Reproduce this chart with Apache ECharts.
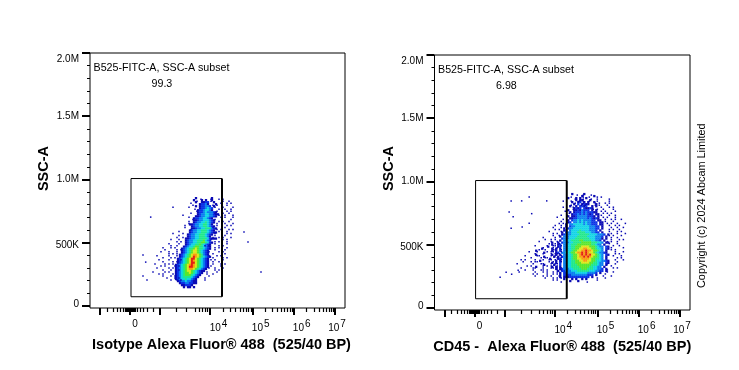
<!DOCTYPE html>
<html>
<head>
<meta charset="utf-8">
<script src="https://cdn.jsdelivr.net/npm/echarts@6/dist/echarts.min.js"></script>
<style>
html, body { margin: 0; padding: 0; background: #fff; }
#chart { width: 739px; height: 370px; }
</style>
</head>
<body>
<div id="chart"></div>
<script>
// x axis is the cytometer's display channel (biexponential), y axis is SSC-A
var xMajorTicks = [10, 40, 70, 120, 162.7, 204, 245];
var xMinorTicks = [17, 23, 27, 30, 33, 35, 36, 37, 38, 38.7, 39.4, 40.6, 41.3, 42, 43, 44, 45, 47, 50, 53, 57, 63,
    86.7, 96.7, 105, 109, 112.7, 115.3, 117.7,
    132.9, 140.4, 145.7, 149.8, 153.2, 156, 158.6, 160.8,
    175, 182, 187, 191, 194.5, 197.5, 200, 202,
    216, 224, 229, 233, 236, 239, 241, 243];
var xLabelValues = [45, 128.5, 170.7, 211.7, 247];
var xLabels = ['0', '{n|10}{e|4}', '{n|10}{e|5}', '{n|10}{e|6}', '{n|10}{e|7}'];
var yMajorTicks = [0, 500000, 1000000, 1500000, 2000000];
var yMinorTicks = [100000, 200000, 300000, 400000, 600000, 700000, 800000, 900000,
    1100000, 1200000, 1300000, 1400000, 1600000, 1700000, 1800000, 1900000];
var yLabelValues = [10000, 480000, 1000000, 1500000, 1950000];
var yLabels = ['0', '500K', '1.0M', '1.5M', '2.0M'];

var gateChannels = [132, 41, 41, 132];
var gateSsc = [1007000, 1007000, 72000, 72000];
var gateEdgeChannels = [132, 132];
var gateEdgeSsc = [1007000, 72000];

// density, one string per row, 2 channels a cell, '.' = no events, 1-9 = colour level
// the *Sparse rows are lone events, they sit half a cell off the main rows
var cellChannels = 2;
var cellSsc = 16000;
var isotypeStartChannel = 50;
var isotypeStartSsc = 852000;
var isotypeRows = [
"............................1.......1",
"...........................1...1.1..1",
"............................1..1122..1",
"..............................12231...1",
"............................1.122332.1",
"..............................1223432",
".............................12234431",
".............................1223433321",
".............................12334433211",
"............................11233443321",
"...........................1223344321",
"...........................11233444321",
"...........................12334454321",
".........................112334455431",
"..........................123344554321",
"..........................1123344555321",
".........................1233445554321",
".........................12334455543211",
"........................1233445554321",
"........................123344555431",
".......................1123344555542111",
".......................1233445556432",
".......................12334455665421",
".......................1234455654321",
"......................12344566554321",
".....................123455676554321",
".....................12345677654321",
".....................12345677654321",
"....................123456788765321",
"....................1234567987654321",
"...................1234567997654321",
"...................1234567987654321",
"...................1234567997654321",
"..................12345678987654321",
"..................12345679987654321",
"..................1234567887654321",
"..................123456776543211",
"..................12345667654321",
"..................1234566654321",
"..................123455554321",
"..................12344544321",
"...................1233433211",
"....................122332211",
".....................112221",
"......................1.11.1"
];
var isotypeSparse = [
"..............................1....1...1.1",
"............................1......1.....1..1",
".........................1..............1..1.1",
"..........................1.........1.1....1",
"................1.......1............1...1....1",
"...........................1...........1..1..1",
"............................1.........1....1.1",
".........................1...........1...1..1",
".....................1.................1..1...1",
"........................1...............1.1...1",
"..........................1..........1.......1",
"........................1..............1.1..1",
"........................1.............1...1...1",
"......................1...............1....1.1",
"......................1.............1.....1",
".........................1............1.1...1.1",
"...................1...................1...1",
"................1....1...............1.....1.1",
"...................1.................1....1",
"..................1..1..............1..1.1...1",
"...............1...1...............1.....1.1",
"..................1.1................1.1...1",
"..............1....1.................1.....1",
"...............1..1.............1.1....1.1",
"...........1...1.1...................1.1...1",
"............1.....1.1................1....1",
"..........1...1...1...............1....1.1",
"..............1.1.1.................1.....1",
"........1.....1...1...............1...1.1",
"...........1...1.1..................1....1.1",
".........1....1.....1..............1.1...1",
"...........1....1.1.................1..1",
".......1....1.1.1...................1...1.1",
"..........1.1....1.1...............1....1",
"........1.....1.1.................1..1...1",
"...........1...1...1.................1.1",
"......1.....1.1..................1....1",
".........1.1....1................1..1",
"...........1...1.1................1",
".............1...1.1............1",
"...............1..1.1...........1"
];
var isotypeOutliers = [[60.7, 702000], [53, 402000], [55.7, 346000], [57, 204000], [53, 236000],
    [154, 584000], [158, 505000], [171, 268000]];

var cd45StartChannel = 65.5;
var cd45StartSsc = 900000;
var cd45Rows = [
"....................................1.....1",
".........................................1.....1",
"..................................1...1.1..1",
"......................................1.11...1",
"....................................1..12.1.1..1",
".....................................1.2.1211...1",
"...................................1..1.2212..1.1",
".....................................1212.21121",
"..................................1..11213222.1.1",
"...................................1.122232322211",
"....................................12232323212.11",
"..................................1.112333332221.1",
"...................................112233333232121",
"..................................1.233434333322.11",
"..................................12.334343433222.11",
".................................1.33444443433222.11",
".................................1.233444444433322.1",
"................................1.2334444444433322.1",
"................................12.34444544443332.1",
"...............................1.23344455554443322.1",
"...............................1233344445555544443332.1",
"..............................1.33344445555544443332.1",
"...............................233344455555554443331.1",
"..............................1.3344555566555544332.1",
"..........................1..1.233344555566666555443.11",
"..........................1..12.3344555666666655433.1",
"........................1....12.33445566677776665433.21",
".....................1....1.1.1.33445566778877665443.21",
"..................1.......1.1.2.33445667788988766543.1",
"......................1.....12.33445667889898776543321",
"..................1.......1.1.1.33445667898989776543.21",
"......................1....1.1.233445667889898766543.1",
".........................1...12.33445667788887665543.1",
"....................1.......1.1.33445566778877665443321",
"..........................1.1.2.33445566677776655433.21",
"......................1....1..2.33445556666666555433.1",
"..................1.......1.1.1.3344555566666554433.1",
"............................1.1233344555566655544332.1",
".............................1.223334445555554443322.1",
"..............................1.22333344444433332.1",
"..............................1.222233333333222.1",
"..............................1.1112222222222.1",
"................................1...1.1..1.1",
"...................................1...1"
];
var cd45Sparse = [
"......................................1..1...1",
"...................................1.....1..1...1.1",
".....................................1...1...1..1.....1",
"...............................1...1...1.1..1...1.....1",
".....................................1...1.....1.1..1.1",
"...................................1....1.1....1.1...1",
"...............................1....1.............1...1.1",
"....................................1.........1.1..1....1",
"................................1.................1.1....1",
"..................................1................1.1.1",
"..............................1..1................1...1..1",
"............................1......................1.1...1",
"...............................1....................1..1.1..1",
"..............................1.....................1...1",
".............................1.1.....................1.1..1...1",
"...........................1..1.......................1..1.1",
"..........................1...1........................1..1..1",
"...........................1.1........................1.1..1",
"........................1.....1.......................1...1.1",
"..........................1.1..........................1..1...1",
"..........................1..1........................1.1...1",
".....................1.....1...........................1..1",
"......................1..1.1...........................1...1.1",
"...................1.....1..1........................1.1..1",
"........................1..1.1........................1...1",
".................1.....1..11..1.........................1..1",
".....................1....1.1..........................1.....1",
"...................1..1...11..1........................1.1",
"..............1...1....1.11...1..........................1...1",
".................1...1...1.111...........................1.1",
"............1.....11.....1.1..1.........................1...1",
"...............1....1.11....1.1...........................1.1",
"..........1.1....1...1..11.1..1..........................1...1",
"...........1...1.11.....1.1...1...........................1",
"........1.......1...11...1.11........................1...1",
".............1.1.....1.1.1..1..........................1",
"..........1.....11...1...11.1.1.........................1.1",
"............1...1...11.1....1.1......................1",
".........1.......1...1.1..1.1........................1..1",
"................1.1....1..1.1.......................1",
".................1...1.1.1...1.....................1...1",
"......................1...1.1.1.................1...1",
"..........................1.1...................1",
"..............................1............1"
];
var cd45Outliers = [[76.5, 846000], [87, 846000], [94.5, 877000], [112, 846000], [74.5, 759000],
    [78.5, 720000], [97, 745000], [76.5, 630000], [87.5, 640000], [94.5, 670000],
    [65.5, 243000], [71.5, 282000], [77, 266000], [83.5, 297000]];

// colour levels 1 to 9
var levelColors = ['#0a0ab4', '#0a32e6', '#0a80f0', '#10d4e6', '#20e88c', '#58e62c', '#dce81e', '#f89c10', '#e41e14'];
var cellSize = 2.3;
var loneEventSize = 1.5;

function densityPoints(rows, sparseRows, startChannel, startSsc, outliers) {
    var points = [];
    rows.forEach(function (row, r) {
        for (var c = 0; c < row.length; c++) {
            if (row[c] !== '.') {
                points.push([startChannel + c * cellChannels, startSsc - r * cellSsc, +row[c], cellSize]);
            }
        }
    });
    sparseRows.forEach(function (row, r) {
        for (var c = 0; c < row.length; c++) {
            if (row[c] !== '.') {
                points.push([startChannel + (c + 0.5) * cellChannels, startSsc - (r + 0.5) * cellSsc, +row[c], loneEventSize]);
            }
        }
    });
    outliers.forEach(function (p) {
        points.push([p[0], p[1], 1, loneEventSize]);
    });
    return points;
}

function pairs(xs, ys) {
    return xs.map(function (x, i) { return [x, ys[i]]; });
}

function xAxisPair(gridIndex, title, titlePadding) {
    return [{
        type: 'value', gridIndex: gridIndex, min: 0, max: 255, position: 'bottom',
        name: title, nameLocation: 'middle', nameGap: 25,
        nameTextStyle: { fontFamily: 'Liberation Sans', fontWeight: 'bold', fontSize: 14.5, color: '#000', padding: titlePadding },
        splitLine: { show: false },
        axisLine: { show: false, onZero: false },
        axisTick: { length: 7, customValues: xMajorTicks, lineStyle: { color: '#000', width: 2 } },
        axisLabel: {
            customValues: xLabelValues, margin: 11, color: '#000', fontFamily: 'Liberation Sans', fontSize: 10,
            formatter: function (v) { return xLabels[xLabelValues.indexOf(v)]; },
            rich: {
                n: { fontFamily: 'Liberation Sans', fontSize: 10, color: '#000' },
                e: { fontFamily: 'Liberation Sans', fontSize: 10, color: '#000', padding: [0, 0, 8, 1] }
            }
        }
    }, {
        type: 'value', gridIndex: gridIndex, min: 0, max: 255, position: 'bottom',
        splitLine: { show: false },
        axisLine: { show: false, onZero: false },
        axisTick: { length: 4, customValues: xMinorTicks, lineStyle: { color: '#000', width: 1.2 } },
        axisLabel: { show: false }
    }];
}

function yAxisPair(gridIndex, titleGap, titlePadding) {
    return [{
        type: 'value', gridIndex: gridIndex, min: -17000, max: 2000000, position: 'left',
        name: 'SSC-A', nameLocation: 'middle', nameGap: titleGap,
        nameTextStyle: { fontFamily: 'Liberation Sans', fontWeight: 'bold', fontSize: 14.5, color: '#000', padding: titlePadding },
        splitLine: { show: false },
        axisLine: { show: false, onZero: false },
        axisTick: { length: 8, customValues: yMajorTicks, lineStyle: { color: '#000', width: 2 } },
        axisLabel: {
            customValues: yLabelValues, margin: 11, color: '#000', fontFamily: 'Liberation Sans', fontSize: 10,
            formatter: function (v) { return yLabels[yLabelValues.indexOf(v)]; }
        }
    }, {
        type: 'value', gridIndex: gridIndex, min: -17000, max: 2000000, position: 'left',
        splitLine: { show: false },
        axisLine: { show: false, onZero: false },
        axisTick: { length: 3, customValues: yMinorTicks, lineStyle: { color: '#000', width: 1 } },
        axisLabel: { show: false }
    }];
}

function densitySeries(points, axisIndex) {
    return {
        type: 'scatter', xAxisIndex: axisIndex, yAxisIndex: axisIndex, data: points, silent: true,
        symbol: 'rect',
        symbolSize: function (v) { return v[3]; },
        itemStyle: { opacity: 1 }
    };
}

function gateSeries(xs, ys, axisIndex, width) {
    return {
        type: 'line', xAxisIndex: axisIndex, yAxisIndex: axisIndex, data: pairs(xs, ys), silent: true, z: 5,
        symbol: 'none', lineStyle: { color: '#000', width: width }
    };
}

function annotation(text, left, top) {
    return { type: 'text', left: left, top: top, style: { text: text, fill: '#000', fontFamily: 'Liberation Sans', fontSize: 10.7 } };
}

var myChart = echarts.init(document.getElementById('chart'));
var option = {
    animation: false,
    backgroundColor: '#fff',
    grid: [
        { show: true, left: 90, top: 53, width: 255, height: 255, borderColor: '#000', borderWidth: 1, backgroundColor: 'transparent' },
        { show: true, left: 434.5, top: 55, width: 255.5, height: 255, borderColor: '#000', borderWidth: 1, backgroundColor: 'transparent' }
    ],
    xAxis: xAxisPair(0, 'Isotype Alexa Fluor® 488  (525/40 BP)', [0, 0, 0, 8])
        .concat(xAxisPair(1, 'CD45 -  Alexa Fluor® 488  (525/40 BP)', [0, 0, 0, 0])),
    yAxis: yAxisPair(0, 36, [0, 0, 0, 24]).concat(yAxisPair(1, 36, [0, 0, 0, 28])),
    visualMap: {
        show: false, type: 'piecewise', dimension: 2, seriesIndex: [0, 3],
        pieces: levelColors.map(function (c, i) { return { value: i + 1, color: c }; })
    },
    series: [
        densitySeries(densityPoints(isotypeRows, isotypeSparse, isotypeStartChannel, isotypeStartSsc, isotypeOutliers), 0),
        gateSeries(gateChannels, gateSsc, 0, 1),
        gateSeries(gateEdgeChannels, gateEdgeSsc, 0, 2),
        densitySeries(densityPoints(cd45Rows, cd45Sparse, cd45StartChannel, cd45StartSsc, cd45Outliers), 2),
        gateSeries(gateChannels, gateSsc, 2, 1),
        gateSeries(gateEdgeChannels, gateEdgeSsc, 2, 2)
    ],
    graphic: [
        annotation('B525-FITC-A, SSC-A subset', 93.5, 63),
        annotation('99.3', 151.5, 79),
        annotation('B525-FITC-A, SSC-A subset', 438, 65),
        annotation('6.98', 496, 81),
        {
            type: 'text', x: 696, y: 288, rotation: Math.PI / 2,
            style: { text: 'Copyright (c) 2024 Abcam Limited', fill: '#000', fontFamily: 'Liberation Sans', fontSize: 10.9 }
        }
    ]
};
myChart.setOption(option);
</script>
</body>
</html>
